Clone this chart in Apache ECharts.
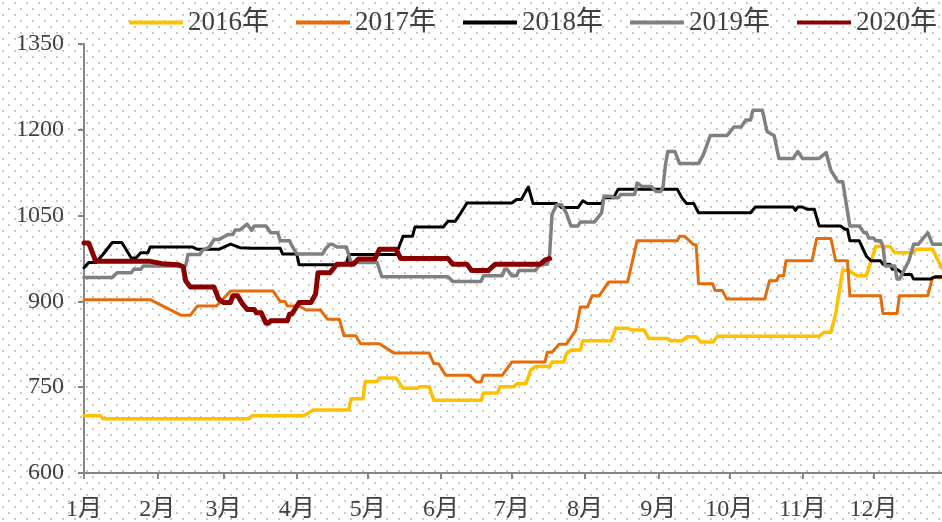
<!DOCTYPE html>
<html>
<head>
<meta charset="utf-8">
<title>2016-2020</title>
<script src="https://cdn.jsdelivr.net/npm/echarts@6/dist/echarts.min.js"></script>
<style>
  html, body { margin: 0; padding: 0; background: #fff; }
  #main { width: 942px; height: 522px; }
</style>
</head>
<body>
<div id="main"></div>
<script>
// day of year -> price
const s2016 = [[0,700],[7,700],[8,695],[70,695],[71,700],[93,700],[97,710],[112,710],[113,730],[118,730],[119,760],[124,760],[125,766],[132,766],[135,748],[141,748],[142,751],[146,751],[148,727],[168,727],[169,740],[175,740],[176,751],[182,751],[183,756],[187,756],[189,780],[191,786],[197,786],[198,794],[203,794],[204,808],[206,815],[210,815],[211,831],[223,831],[225,853],[230,853],[232,850],[237,850],[239,835],[247,835],[248,831],[253,831],[255,838],[259,838],[261,829],[266,829],[268,839],[311,839],[313,846],[316,846],[318,878],[321,955],[324,953],[327,945],[331,945],[335,996],[341,996],[343,985],[351,985],[352,991],[359,991],[363,958]];
const s2017 = [[0,903],[28,903],[41,876],[45,876],[48,892],[56,892],[62,918],[80,918],[83,900],[85,900],[86,892],[91,892],[94,885],[100,885],[103,869],[108,869],[110,840],[115,840],[117,826],[125,826],[128,818],[131,810],[146,810],[148,791],[150,791],[153,771],[163,771],[166,759],[168,759],[169,771],[177,771],[181,794],[195,794],[196,811],[198,811],[201,825],[204,825],[208,849],[210,890],[213,890],[215,910],[218,910],[222,934],[230,934],[234,1006],[251,1006],[252,1014],[254,1014],[258,999],[259,999],[260,931],[266,931],[267,919],[270,919],[272,904],[288,904],[290,936],[293,936],[294,945],[296,945],[297,971],[308,971],[310,1010],[316,1010],[318,971],[323,971],[324,910],[337,910],[338,879],[344,879],[345,910],[357,910],[359,942],[363,942]];
const s2018 = [[0,959],[2,968],[5,968],[8,982],[12,1003],[16,1003],[20,976],[22,976],[24,985],[27,985],[28,995],[46,995],[48,991],[57,991],[62,1000],[66,994],[71,993],[83,993],[84,983],[90,983],[91,964],[111,964],[112,982],[132,982],[134,1003],[135,1014],[139,1014],[140,1030],[152,1030],[154,1040],[157,1040],[159,1052],[162,1072],[181,1072],[183,1078],[185,1078],[188,1100],[190,1071],[200,1071],[202,1064],[209,1064],[211,1076],[213,1071],[219,1071],[220,1081],[224,1081],[226,1096],[251,1096],[253,1081],[255,1071],[258,1071],[260,1055],[282,1055],[284,1065],[300,1065],[301,1059],[302,1065],[304,1065],[306,1061],[309,1061],[311,1032],[320,1032],[322,1026],[323,1026],[324,1006],[328,1006],[331,979],[333,971],[337,971],[338,965],[341,965],[342,956],[344,956],[347,947],[350,947],[351,939],[358,939],[360,943],[363,943]];
const s2019 = [[0,942],[12,942],[14,950],[20,950],[21,956],[24,956],[25,962],[43,962],[44,982],[49,982],[50,989],[53,995],[55,1008],[57,1008],[61,1017],[63,1017],[64,1025],[66,1025],[69,1035],[71,1024],[72,1032],[77,1032],[79,1020],[82,1020],[83,1006],[87,1006],[88,997],[90,983],[101,983],[102,991],[104,1000],[105,1000],[107,995],[111,995],[113,968],[124,968],[126,943],[154,943],[156,935],[168,935],[169,945],[177,945],[178,956],[179,956],[181,945],[183,945],[184,954],[191,954],[193,965],[196,965],[197,982],[198,1052],[200,1069],[202,1069],[204,1055],[206,1032],[209,1032],[210,1039],[216,1039],[219,1055],[220,1084],[223,1084],[224,1081],[226,1081],[227,1087],[233,1087],[234,1107],[236,1101],[240,1101],[242,1092],[244,1092],[245,1101],[246,1139],[247,1162],[250,1162],[252,1141],[260,1141],[262,1156],[265,1190],[272,1190],[275,1205],[278,1205],[280,1217],[282,1217],[283,1234],[287,1234],[289,1197],[291,1192],[292,1190],[294,1150],[300,1150],[302,1162],[304,1150],[311,1150],[314,1160],[316,1129],[319,1109],[321,1109],[324,1032],[328,1032],[330,1020],[331,1020],[332,1011],[334,1011],[335,1006],[337,1006],[338,997],[339,962],[343,962],[344,939],[345,939],[349,971],[351,1000],[353,1000],[357,1020],[359,1000],[363,1000]];
const s2020 = [[0,1002],[2,1002],[5,970],[28,970],[33,966],[40,964],[42,960],[43,936],[45,925],[55,925],[57,904],[59,898],[62,898],[63,910],[65,910],[67,896],[69,886],[72,886],[73,880],[75,880],[77,862],[78,862],[79,866],[86,866],[87,878],[88,878],[91,898],[96,898],[98,913],[99,950],[104,950],[107,965],[114,965],[116,974],[123,974],[125,991],[132,991],[134,975],[154,975],[156,965],[162,965],[164,954],[171,954],[174,965],[193,965],[195,972],[197,975]];

const yearNames = ['2016年', '2017年', '2018年', '2019年', '2020年'];
const yearColors = ['#FFC000', '#E46C0A', '#000000', '#808080', '#8B0000'];
const yearWidths = [3.5, 3, 3, 3.5, 5];

// first day of each month
const monthStarts = [0, 31, 59, 90, 120, 151, 181, 212, 243, 273, 304, 334];
const monthLabels = ['1月','2月','3月','4月','5月','6月','7月','8月','9月','10月','11月','12月'];

const FONT = "'Liberation Serif', 'Noto Sans CJK SC', serif";
const TEXT = '#404040';
const AXIS = '#868686';

// dotted background like the excel pattern fill
function makeDots() {
    let c = document.createElement('canvas');
    c.width = 12;
    c.height = 12;
    let ctx = c.getContext('2d');
    ctx.fillStyle = '#ffffff';
    ctx.fillRect(0, 0, 12, 12);
    ctx.fillStyle = '#c8c8c8';
    ctx.fillRect(2, 2, 2, 2);
    ctx.fillRect(8, 8, 2, 2);
    return c;
}

const chart = echarts.init(document.getElementById('main'), null, { renderer: 'canvas' });

const allSeries = [s2016, s2017, s2018, s2019, s2020];

const option = {
    backgroundColor: { image: makeDots(), repeat: 'repeat' },
    animation: false,
    legend: {
        left: 124,
        top: 4,
        width: 818,
        icon: 'rect',
        itemWidth: 54,
        itemHeight: 4,
        itemGap: 27,
        textStyle: { fontFamily: FONT, fontSize: 27, color: TEXT },
        data: yearNames
    },
    grid: { left: 84, right: 0, top: 44, bottom: 45 },
    xAxis: {
        type: 'value',
        min: 0,
        max: 363,
        splitLine: { show: false },
        axisLine: { show: true, lineStyle: { color: AXIS, width: 2 } },
        axisTick: { show: true, length: 6, lineStyle: { color: AXIS, width: 2 }, customValues: monthStarts },
        axisLabel: {
            customValues: monthStarts,
            margin: 25,
            fontFamily: FONT,
            fontSize: 24,
            color: TEXT,
            formatter: function (v) {
                return monthLabels[monthStarts.indexOf(v)];
            }
        }
    },
    yAxis: {
        type: 'value',
        min: 600,
        max: 1350,
        interval: 150,
        splitLine: { show: false },
        axisLine: { show: true, lineStyle: { color: AXIS, width: 2 } },
        axisTick: { show: true, length: 6, lineStyle: { color: AXIS, width: 2 } },
        axisLabel: {
            margin: 20,
            fontFamily: FONT,
            fontSize: 24,
            color: TEXT,
            formatter: function (v) { return String(v); }
        }
    },
    series: allSeries.map(function (d, i) {
        return {
            name: yearNames[i],
            type: 'line',
            data: d,
            symbol: 'none',
            showSymbol: false,
            color: yearColors[i],
            lineStyle: { color: yearColors[i], width: yearWidths[i], cap: 'round', join: 'round' }
        };
    })
};

chart.setOption(option);
</script>
</body>
</html>
